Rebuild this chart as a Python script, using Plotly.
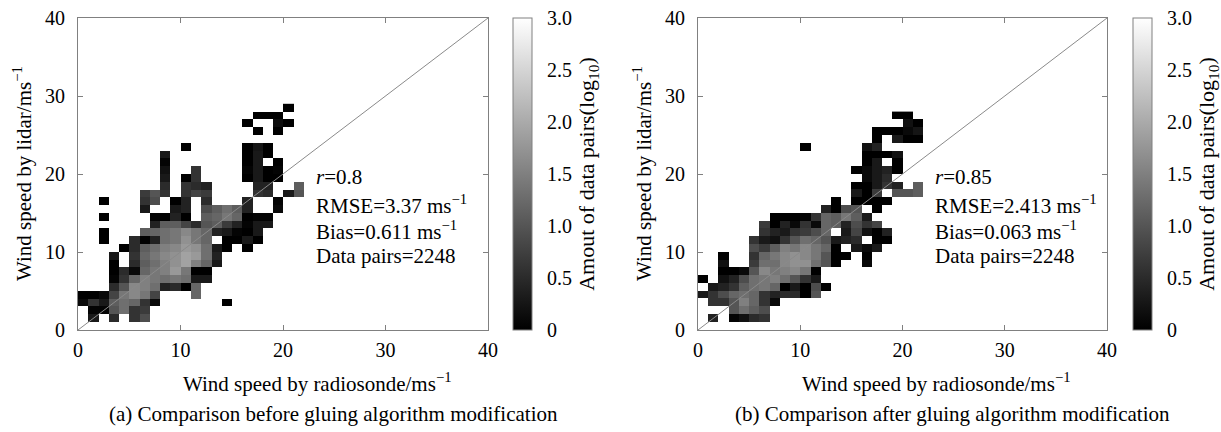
import plotly.graph_objects as go

# ---------------- data ----------------
N_X = 22
AXIS_RANGE = [0, 40]
axis_ticks = [0, 10, 20, 30, 40]
one_to_one = [0, 40]
cbar_vals = [0, 0.5, 1.0, 1.5, 2.0, 2.5, 3.0]
cbar_text = ["0", "0.5", "1.0", "1.5", "2.0", "2.5", "3.0"]

stats_before = ["<i>r</i>=0.8", "RMSE=3.37 ms<sup>−1</sup>", "Bias=0.611 ms<sup>−1</sup>", "Data pairs=2248"]
stats_after = ["<i>r</i>=0.85", "RMSE=2.413 ms<sup>−1</sup>", "Bias=0.063 ms<sup>−1</sup>", "Data pairs=2248"]
stats_y = [19.65, 16.1, 12.8, 9.55]
stats_x = 23.0

caption_a = "(a) Comparison before gluing algorithm modification"
caption_b = "(b) Comparison after gluing algorithm modification"
x_title = "Wind speed by radiosonde/ms<sup>−1</sup>"
y_title = "Wind speed by lidar/ms<sup>−1</sup>"
cbar_title = "Amout of data pairs(log<sub>10</sub>)"

# log10(count) per 1 m/s bin; list index = lidar bin (y), dict key = radiosonde bin (x)
before_cells = [
    {},
    {1: 0.3, 3: 0.5, 5: 0.6, 6: 0.9},
    {1: 0.05, 2: 0.05, 3: 1.0, 4: 1.3, 5: 0.6, 6: 0.7},
    {0: 0.1, 1: 0.6, 2: 0.3, 3: 1.1, 4: 1.3, 5: 1.2, 6: 0.6, 7: 0.1, 14: 0.0},
    {0: 0.0, 1: 0.0, 2: 0.1, 3: 0.8, 4: 1.4, 5: 1.6, 6: 1.4, 7: 0.8, 11: 1.2},
    {3: 0.5, 4: 1.0, 5: 1.6, 6: 1.5, 7: 1.3, 8: 0.4, 9: 0.5, 10: 0.0, 11: 1.2},
    {3: 0.05, 4: 0.6, 5: 1.2, 6: 1.5, 7: 1.4, 8: 1.3, 9: 1.4, 10: 1.3, 11: 0.3, 12: 0.3},
    {3: 0.0, 4: 0.5, 5: 0.1, 6: 1.2, 7: 1.4, 8: 1.5, 9: 1.8, 10: 1.4, 11: 0.0, 12: 0.0},
    {3: 0.0, 5: 0.5, 6: 1.1, 7: 1.3, 8: 1.5, 9: 1.7, 10: 1.9, 11: 1.5, 12: 1.2, 13: 0.3},
    {3: 0.3, 5: 0.6, 6: 1.2, 7: 1.4, 8: 1.6, 9: 1.7, 10: 1.9, 11: 1.8, 12: 1.3, 13: 0.4},
    {4: 0.0, 5: 0.5, 6: 1.1, 7: 1.3, 8: 1.5, 9: 1.6, 10: 1.8, 11: 1.7, 12: 1.3, 13: 0.3, 14: 0.0, 16: 0.0},
    {2: 0.0, 5: 0.5, 6: 0.0, 7: 0.4, 8: 1.3, 9: 1.4, 10: 1.7, 11: 1.4, 12: 1.2, 14: 0.0, 15: 0.0, 16: 0.3, 17: 0.0},
    {2: 0.0, 6: 1.1, 7: 1.2, 8: 1.3, 9: 1.4, 10: 1.6, 11: 1.4, 12: 1.2, 13: 0.4, 14: 0.3, 15: 0.05, 16: 0.0, 17: 0.3},
    {7: 0.4, 8: 1.1, 9: 1.1, 10: 0.8, 11: 0.5, 12: 1.0, 13: 1.1, 14: 0.7, 15: 0.4, 16: 0.05, 17: 0.3, 18: 0.3},
    {2: 0.0, 7: 0.05, 8: 0.0, 9: 0.4, 10: 0.0, 12: 1.1, 13: 1.2, 14: 1.4, 15: 1.2, 16: 0.0, 17: 0.05, 18: 0.05},
    {6: 0.3, 9: 0.3, 10: 0.4, 12: 0.9, 13: 1.1, 14: 1.3, 15: 1.1, 16: 0.4, 19: 0.1},
    {2: 0.0, 6: 0.6, 7: 0.9, 9: 0.0, 10: 0.4, 12: 0.5, 16: 0.4, 19: 0.05},
    {6: 0.7, 7: 1.0, 8: 0.6, 10: 0.6, 11: 0.8, 12: 0.7, 17: 0.6, 18: 0.5, 20: 0.3, 21: 1.0},
    {8: 0.5, 10: 0.6, 11: 0.5, 12: 0.4, 17: 0.4, 18: 0.4, 21: 1.1},
    {8: 0.3, 10: 0.0, 11: 0.6, 16: 0.0, 17: 0.3, 18: 0.0, 19: 0.0},
    {8: 0.2, 11: 0.6, 16: 0.05, 17: 0.3, 18: 0.0, 19: 0.05},
    {8: 0.05, 16: 0.0, 17: 0.3, 19: 0.0},
    {8: 0.3, 16: 0.0, 17: 0.3, 18: 0.0},
    {10: 0.0, 16: 0.0, 17: 0.25, 18: 0.0},
    {},
    {17: 0.0, 19: 0.0},
    {16: 0.0, 19: 0.15, 20: 0.0},
    {17: 0.0, 18: 0.0, 19: 0.0},
    {20: 0.0},
]

after_cells = [
    {},
    {1: 0.4, 3: 0.05, 4: 0.2, 5: 0.5, 6: 0.6},
    {3: 1.0, 4: 1.3, 5: 1.1, 6: 0.9},
    {1: 0.6, 2: 0.6, 3: 1.0, 4: 1.5, 5: 1.2, 6: 0.6, 7: 0.1},
    {0: 0.3, 1: 0.6, 2: 0.9, 3: 1.2, 4: 1.3, 5: 1.2, 6: 0.6, 7: 0.4, 8: 0.5, 9: 0.5, 10: 0.0, 11: 1.0},
    {1: 0.3, 2: 0.4, 3: 0.6, 4: 1.1, 5: 1.3, 6: 1.4, 7: 1.2, 8: 0.0, 9: 0.3, 10: 0.0, 11: 0.9, 12: 0.0},
    {0: 0.0, 2: 0.2, 3: 0.4, 4: 0.9, 5: 1.3, 6: 1.4, 7: 1.5, 8: 1.3, 9: 1.0, 10: 0.6, 11: 0.3},
    {2: 0.0, 3: 0.0, 4: 0.1, 5: 1.0, 6: 1.6, 7: 1.4, 8: 1.5, 9: 1.6, 10: 1.4, 11: 0.0},
    {2: 0.2, 5: 0.7, 6: 1.3, 7: 1.3, 8: 1.6, 9: 1.7, 10: 1.7, 11: 1.3, 12: 1.0, 13: 0.0, 16: 0.1},
    {2: 0.0, 5: 0.6, 6: 1.2, 7: 1.4, 8: 1.6, 9: 1.7, 10: 1.6, 11: 1.4, 12: 1.0, 13: 0.0, 14: 0.0, 16: 0.0},
    {5: 0.9, 6: 0.7, 7: 1.1, 8: 1.5, 9: 1.4, 10: 1.6, 11: 1.4, 12: 1.2, 13: 0.0, 15: 0.3, 16: 0.1, 17: 0.3},
    {5: 0.6, 6: 0.3, 7: 0.2, 8: 0.6, 9: 1.0, 10: 1.3, 11: 1.2, 12: 1.0, 13: 0.3, 14: 0.4, 15: 0.5, 17: 0.0, 18: 0.0},
    {6: 0.6, 7: 0.4, 8: 0.3, 9: 0.6, 10: 0.7, 11: 0.9, 12: 1.2, 14: 0.3, 15: 0.8, 16: 0.2, 17: 0.0, 18: 0.4},
    {6: 0.7, 7: 0.0, 8: 0.4, 9: 0.1, 10: 0.6, 11: 0.1, 12: 1.2, 13: 1.1, 14: 0.4, 15: 0.9, 16: 0.6, 17: 0.8},
    {7: 0.0, 8: 0.0, 9: 0.0, 10: 0.05, 11: 0.6, 12: 1.2, 13: 1.1, 14: 1.4, 15: 1.1, 16: 0.3},
    {12: 0.4, 13: 0.0, 14: 0.9, 15: 1.0, 17: 0.0},
    {13: 0.0, 15: 0.0, 16: 0.0, 17: 0.0, 18: 0.0},
    {15: 0.3, 16: 0.0, 17: 0.7, 19: 1.0, 20: 1.0, 21: 1.1},
    {15: 0.0, 16: 0.0, 17: 0.3, 18: 0.6, 19: 0.4, 21: 1.1},
    {16: 0.1, 17: 0.3, 18: 0.5},
    {15: 0.0, 16: 0.1, 17: 0.3, 18: 0.4, 19: 0.0},
    {16: 0.0, 17: 0.3, 19: 0.0},
    {16: 0.0, 17: 0.0, 18: 0.0, 19: 0.2},
    {10: 0.0, 16: 0.2, 17: 0.4},
    {17: 0.0, 19: 0.3, 20: 0.0, 21: 0.0},
    {17: 0.0, 18: 0.0, 19: 0.0, 20: 0.1, 21: 0.25},
    {20: 0.2, 21: 0.0},
    {19: 0.0, 20: 0.0},
]

# ---------------- figure ----------------
W, H = 1221, 432
FONT = "Liberation Serif"
FRAME = "#808080"

def to_matrix(cells):
    return [[row.get(i) for i in range(N_X)] for row in cells]

def px_x(p):
    return p / W

def px_y(p):
    return (H - p) / H

plot_top, plot_bottom = 18, 330
panels = [
    dict(cells=before_cells, stats=stats_before, left=78, right=488, cbar=513, caption=caption_a, xa="x", ya="y"),
    dict(cells=after_cells, stats=stats_after, left=698, right=1107, cbar=1133, caption=caption_b, xa="x2", ya="y2"),
]

fig = go.Figure()
annotations = []
for k, p in enumerate(panels):
    z = to_matrix(p["cells"])
    fig.add_trace(go.Heatmap(
        z=z,
        x=[i + 0.5 for i in range(N_X)],
        y=[j + 0.5 for j in range(len(z))],
        xaxis=p["xa"], yaxis=p["ya"],
        zmin=0, zmax=3,
        colorscale=[[0, "#000000"], [1, "#ffffff"]],
        hoverongaps=False,
        colorbar=dict(
            x=px_x(p["cbar"]), xanchor="left", xref="paper",
            y=px_y(plot_bottom), yanchor="bottom",
            len=plot_bottom - plot_top, lenmode="pixels",
            thickness=19, thicknessmode="pixels",
            xpad=0, ypad=0,
            outlinewidth=1, outlinecolor=FRAME,
            tickvals=cbar_vals, ticktext=cbar_text,
            ticks="outside", ticklen=11, tickcolor="rgba(0,0,0,0)",
            tickfont=dict(family=FONT, size=20, color="black"),
            title=dict(text=cbar_title, side="right",
                       font=dict(family=FONT, size=22, color="black")),
        ),
    ))
    fig.add_trace(go.Scatter(
        x=one_to_one, y=one_to_one, mode="lines",
        line=dict(color="#8a8a8a", width=1),
        xaxis=p["xa"], yaxis=p["ya"], showlegend=False, hoverinfo="skip",
    ))
    for txt, yy in zip(p["stats"], stats_y):
        annotations.append(dict(
            text=txt, x=stats_x, y=yy, xref=p["xa"], yref=p["ya"],
            xanchor="left", yanchor="middle", showarrow=False,
            font=dict(family=FONT, size=21, color="black"),
        ))
    cx = (p["left"] + p["right"]) / 2
    annotations.append(dict(
        text=x_title, x=px_x(cx + 34), y=px_y(382), xref="paper", yref="paper",
        xanchor="center", yanchor="middle", showarrow=False,
        font=dict(family=FONT, size=21, color="black"),
    ))
    annotations.append(dict(
        text=y_title, x=px_x(p["left"] - 56), y=px_y((plot_top + plot_bottom) / 2),
        xref="paper", yref="paper", textangle=-90,
        xanchor="center", yanchor="middle", showarrow=False,
        font=dict(family=FONT, size=21, color="black"),
    ))
    annotations.append(dict(
        text=p["caption"], x=px_x(cx + 50), y=px_y(414), xref="paper", yref="paper",
        xanchor="center", yanchor="middle", showarrow=False,
        font=dict(family=FONT, size=21, color="black"),
    ))

axis_common = dict(
    range=AXIS_RANGE, tickvals=axis_ticks, ticks="inside", ticklen=5,
    tickcolor=FRAME, showline=True, linecolor=FRAME, linewidth=1,
    mirror="ticks", showgrid=False, zeroline=False,
    tickfont=dict(family=FONT, size=20, color="black"),
)

layout_axes = {}
for k, p in enumerate(panels):
    sx = "" if k == 0 else "2"
    layout_axes["xaxis" + sx] = dict(axis_common, domain=[px_x(p["left"]), px_x(p["right"])],
                                     anchor="y" + sx, ticklabelstandoff=2)
    layout_axes["yaxis" + sx] = dict(axis_common, domain=[px_y(plot_bottom), px_y(plot_top)],
                                     anchor="x" + sx, ticklabelstandoff=8)

fig.update_layout(
    width=W, height=H,
    margin=dict(l=0, r=0, t=0, b=0, autoexpand=False),
    paper_bgcolor="white", plot_bgcolor="white",
    showlegend=False,
    annotations=annotations,
    **layout_axes,
)

fig.write_html("out.html", config={"displayModeBar": False},
               post_script="document.body.style.margin='0px';")
